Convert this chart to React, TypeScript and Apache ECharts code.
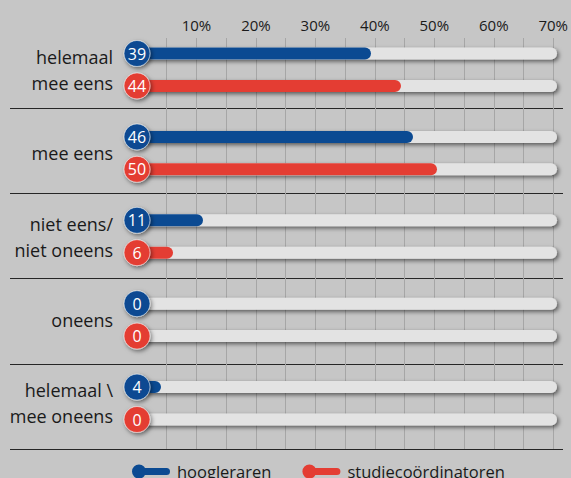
import React, { useEffect, useRef } from "react";
import * as echarts from "echarts";

const categories = [
  "helemaal\nmee eens",
  "mee eens",
  "niet eens/\nniet oneens",
  "oneens",
  "helemaal \\\nmee oneens",
];
const hoogleraren = [39, 46, 11, 0, 4];
const studiecoordinatoren = [44, 50, 6, 0, 0];
const seriesNames = ["hoogleraren", "studiecoördinatoren"];
const xTicks = [0, 70, 5]; // min, max, gridline interval

const BLUE = "#0b4a92";
const RED = "#e43d33";
const FONT = "Open Sans";

export default function App() {
  const ref = useRef<HTMLDivElement>(null);
  useEffect(() => {
    if (!ref.current) return;
    const chart = echarts.init(ref.current, null, { renderer: "svg" });
    const off = 16.2;
    const scatter = (name: string, vals: number[], color: string, dy: number) => ({
      name,
      type: "scatter",
      xAxisIndex: 0,
      yAxisIndex: 0,
      z: 5,
      symbol: "circle",
      symbolSize: 26,
      symbolOffset: [0, dy],
      data: vals.map((v, i) => [0, i, v]),
      itemStyle: {
        color,
        opacity: 1,
        borderColor: "rgba(255,255,255,0.55)",
        borderWidth: 1,
        shadowBlur: 4,
        shadowColor: "rgba(0,0,0,0.5)",
        shadowOffsetX: 1.5,
        shadowOffsetY: 2,
      },
      label: {
        show: true,
        position: "inside",
        formatter: (p: any) => String(p.data[2]),
        color: "#ffffff",
        fontSize: 16,
        fontFamily: FONT,
      },
      emphasis: { disabled: true },
    });
    const bar = (name: string, vals: number[], color: string) => ({
      name,
      type: "bar",
      xAxisIndex: 0,
      yAxisIndex: 0,
      barWidth: 12,
      barGap: "170%",
      data: vals,
      itemStyle: { color, borderRadius: [0, 6, 6, 0] },
      showBackground: true,
      backgroundStyle: {
        color: "#e3e3e3",
        borderRadius: 6,
        shadowBlur: 4,
        shadowColor: "rgba(0,0,0,0.55)",
        shadowOffsetX: 2,
        shadowOffsetY: 2,
      },
      emphasis: { disabled: true },
    });
    chart.setOption({
      animation: false,
      backgroundColor: "#c6c6c6",
      textStyle: { fontFamily: FONT },
      grid: [
        { left: 137, right: 14, top: 28, bottom: 33 },
        { left: 10, right: 8, top: 108, bottom: 29 },
        { left: 137, right: 14, top: 38, bottom: 29 },
      ],
      xAxis: [
        { type: "value", gridIndex: 0, min: xTicks[0], max: xTicks[1], show: false },
        { type: "value", gridIndex: 1, min: 0, max: 1, show: false },
        {
          type: "value",
          gridIndex: 2,
          position: "top",
          min: xTicks[0],
          max: xTicks[1],
          interval: xTicks[2],
          axisLine: { show: false },
          axisTick: { show: false },
          axisLabel: {
            margin: 6,
            fontSize: 15,
            color: "#1a1a1a",
            fontFamily: FONT,
            formatter: (v: number) => (v > 0 && v % 10 === 0 ? v + "%" : ""),
          },
          splitLine: { show: true, showMinLine: false, lineStyle: { color: "#a6a6a6", width: 1 } },
        },
      ],
      yAxis: [
        {
          type: "category",
          gridIndex: 0,
          data: categories,
          inverse: true,
          axisLine: { show: false },
          axisTick: { show: false },
          splitLine: { show: false },
          axisLabel: {
            margin: 24,
            fontSize: 18,
            lineHeight: 26,
            color: "#1a1a1a",
            fontFamily: FONT,
            align: "right",
          },
        },
        {
          type: "value",
          gridIndex: 1,
          min: 0,
          max: 4,
          interval: 1,
          axisLine: { show: false },
          axisTick: { show: false },
          axisLabel: { show: false },
          splitLine: { show: true, lineStyle: { color: "#262626", width: 1 } },
        },
        { type: "value", gridIndex: 2, show: false, min: 0, max: 1 },
      ],
      legend: {
        left: 127,
        top: 458,
        itemWidth: 38,
        itemHeight: 14,
        itemGap: 31,
        data: seriesNames.map((n) => ({
          name: n,
          icon: "path://M7,0 A7,7 0 1 1 7,14 A7,7 0 1 1 7,0 Z M7,3.5 L34.5,3.5 A3.5,3.5 0 0 1 34.5,10.5 L7,10.5 Z",
        })),
        textStyle: { fontSize: 16.5, color: "#1a1a1a", fontFamily: FONT, padding: [0, 0, 0, 2] },
        selectedMode: false,
      },
      series: [
        bar(seriesNames[0], hoogleraren, BLUE),
        bar(seriesNames[1], studiecoordinatoren, RED),
        scatter(seriesNames[0], hoogleraren, BLUE, -off),
        scatter(seriesNames[1], studiecoordinatoren, RED, off),
      ],
    });
    return () => chart.dispose();
  }, []);
  return (
    <div
      ref={ref}
      style={{ position: "fixed", left: 0, top: 0, width: 571, height: 478 }}
    />
  );
}
